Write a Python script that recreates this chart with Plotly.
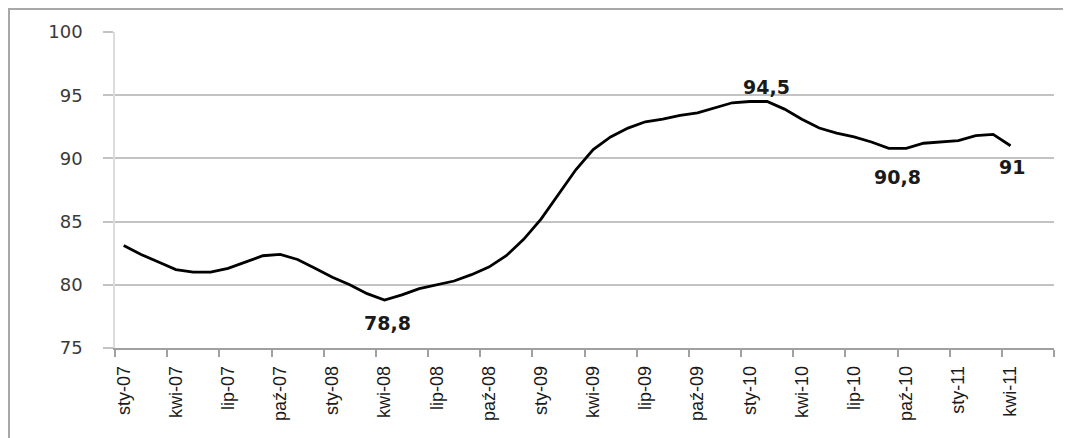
import plotly.graph_objects as go

# Month labels (Polish short names) for the category axis
month_names = ['sty', 'lut', 'mar', 'kwi', 'maj', 'cze',
               'lip', 'sie', 'wrz', 'paź', 'lis', 'gru']
years = ['07', '08', '09', '10', '11']

# Axis runs sty-07 .. cze-11, data ends at kwi-11
categories = [m + '-' + y for y in years for m in month_names][:54]

values = [83.1, 82.4, 81.8, 81.2, 81.0, 81.0, 81.3, 81.8, 82.3, 82.4,
          82.0, 81.3, 80.6, 80.0, 79.3, 78.8, 79.2, 79.7, 80.0, 80.3,
          80.8, 81.4, 82.3, 83.6, 85.2, 87.2, 89.1, 90.7, 91.7, 92.4,
          92.9, 93.1, 93.4, 93.6, 94.0, 94.4, 94.5, 94.5, 93.9, 93.1,
          92.4, 92.0, 91.7, 91.3, 90.8, 90.8, 91.2, 91.3, 91.4, 91.8,
          91.9, 91.0]

# Points that carry a data label
labelled_points = [15, 37, 44, 51]

y_ticks = [75, 80, 85, 90, 95, 100]

fig = go.Figure()

fig.add_trace(go.Scatter(
  x=categories[:len(values)],
  y=values,
  mode='lines',
  line=dict(color='black', width=2.8),
  hoverinfo='x+y'
))

# label offsets (px) for each labelled point
label_shift = {15: (3, -23), 37: (-1, 15), 44: (9, -29), 51: (1, -21)}

for i in labelled_points:
  dx, dy = label_shift[i]
  fig.add_annotation(
    x=categories[i], y=values[i],
    text='<b>' + ('%g' % values[i]).replace('.', ',') + '</b>',
    showarrow=False, xshift=dx, yshift=dy,
    font=dict(family='DejaVu Sans', size=19, color='#1a1a1a')
  )

grid_col = '#c3c3c3'

# page body adds an 8px offset, so the figure is 8px smaller
fig_w, fig_h = 1063, 430
plot_l, plot_t, plot_r, plot_b = 107, 24, 1046, 340
plot_w = plot_r - plot_l
plot_h = plot_b - plot_t

fig.update_layout(
  template='none',
  width=fig_w,
  height=fig_h,
  margin=dict(l=plot_l, r=fig_w - plot_r, t=plot_t, b=fig_h - plot_b, autoexpand=False),
  paper_bgcolor='white',
  plot_bgcolor='white',
  showlegend=False,
  xaxis=dict(
    type='category',
    categoryorder='array',
    categoryarray=categories,
    range=[-0.5, len(categories) - 0.5],
    tickmode='linear', tick0=0, dtick=3,
    tickson='boundaries',
    ticks='outside', ticklen=7, tickcolor='#a0a0a0', tickwidth=1.5,
    tickangle=-90,
    tickfont=dict(family='Liberation Sans', size=18, color='#1a1a1a'),
    ticklabelstandoff=9,
    showgrid=False,
    showline=True, linecolor='#a0a0a0', linewidth=1.5,
    automargin=False,
    fixedrange=True
  ),
  yaxis=dict(
    range=[75, 100],
    tickvals=y_ticks,
    ticks='outside', ticklen=10, tickcolor=grid_col, tickwidth=1.5,
    tickfont=dict(family='DejaVu Sans', size=18, color='#3a3a3a'),
    ticklabelstandoff=17,
    showgrid=True, gridcolor=grid_col, gridwidth=1.5,
    zeroline=False,
    showline=True, linecolor='#dcdcdc', linewidth=1.5,
    automargin=False,
    fixedrange=True
  ),
  # outer chart border, cut off at right and bottom like the source
  shapes=[dict(
    type='rect', xref='paper', yref='paper',
    x0=(1 - plot_l) / plot_w, x1=(fig_w + 10 - plot_l) / plot_w,
    y0=(plot_b - fig_h - 10) / plot_h, y1=1 + (plot_t - 1) / plot_h,
    line=dict(color='#a8a8a8', width=2)
  )]
)

fig.write_html("out.html")
